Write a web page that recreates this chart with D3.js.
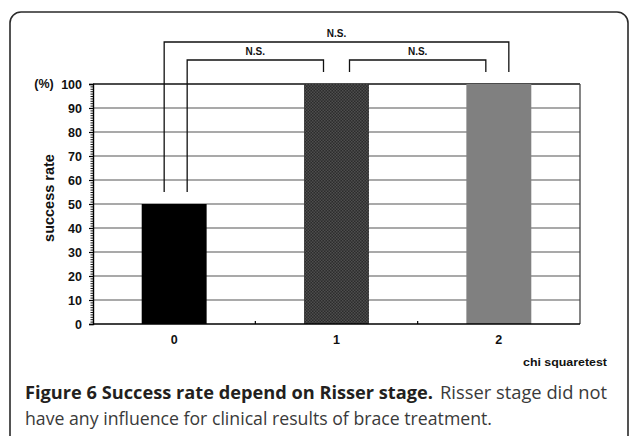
<!DOCTYPE html>
<html>
<head>
<meta charset="utf-8">
<script src="https://cdn.jsdelivr.net/npm/d3@7"></script>
<style>
  body { margin: 0; background: #fff; }
  svg { display: block; }
</style>
</head>
<body>
<div id="chart"></div>
<script>
// data
var stages = ["0", "1", "2"]
var successRate = [50, 100, 100]
var barFills = ["#000000", "url(#checker)", "#808080"]
var yTicks = [0, 10, 20, 30, 40, 50, 60, 70, 80, 90, 100]
// significance brackets: from stage, to stage, bracket level (in %), label
var bracketFrom = [0, 0, 1]
var bracketTo = [2, 1, 2]
var bracketLevel = [117.5, 110, 110]
var bracketLabel = ["N.S.", "N.S.", "N.S."]

var width = 629, height = 436
var margin = {top: 84, right: 49, bottom: 112, left: 93}

var svg = d3.select("#chart").append("svg")
  .attr("width", width)
  .attr("height", height)

var defs = svg.append("defs")
var pat = defs.append("pattern")
  .attr("id", "checker")
  .attr("width", 3).attr("height", 3)
  .attr("patternUnits", "userSpaceOnUse")
pat.append("rect").attr("width", 3).attr("height", 3).attr("fill", "#2c2c2c")
pat.append("rect").attr("width", 1.5).attr("height", 1.5).attr("fill", "#4e4e4e")
pat.append("rect").attr("x", 1.5).attr("y", 1.5).attr("width", 1.5).attr("height", 1.5).attr("fill", "#4e4e4e")

// outer rounded frame
svg.append("rect")
  .attr("x", 10).attr("y", 12)
  .attr("width", 618).attr("height", 470)
  .attr("rx", 11)
  .attr("fill", "none")
  .attr("stroke", "#2a2a2a")
  .attr("stroke-width", 1.6)

var x0 = margin.left, x1 = width - margin.right
var y0 = height - margin.bottom, y1 = margin.top

var x = d3.scaleBand()
  .domain(stages)
  .range([x0, x1])
  .paddingInner(0.6)
  .paddingOuter(0.3)

var y = d3.scaleLinear()
  .domain([0, 100])
  .range([y0, y1])

var cx = function(i) { return x(stages[i]) + x.bandwidth() / 2 }

// grid lines
svg.append("g")
  .selectAll("line")
  .data(yTicks.filter(function(d) { return d > 0 && d < 100 }))
  .enter().append("line")
  .attr("x1", x0).attr("x2", x1)
  .attr("y1", function(d) { return y(d) }).attr("y2", function(d) { return y(d) })
  .attr("stroke", "#8c8c8c")
  .attr("stroke-width", 1.3)

// plot top and right borders
svg.append("line")
  .attr("x1", x0).attr("x2", x1)
  .attr("y1", y(100)).attr("y2", y(100))
  .attr("stroke", "#111").attr("stroke-width", 1.4)
svg.append("line")
  .attr("x1", x1).attr("x2", x1)
  .attr("y1", y(100)).attr("y2", y(0))
  .attr("stroke", "#444").attr("stroke-width", 1.3)

// bars
svg.append("g")
  .selectAll("rect")
  .data(successRate)
  .enter().append("rect")
  .attr("x", function(d, i) { return x(stages[i]) })
  .attr("y", function(d) { return y(d) })
  .attr("width", x.bandwidth())
  .attr("height", function(d) { return y(0) - y(d) })
  .attr("fill", function(d, i) { return barFills[i] })

// y axis with minor ticks
var yAxis = svg.append("g")
  .attr("transform", "translate(" + x0 + ",0)")
  .call(d3.axisLeft(y).tickValues(yTicks).tickSize(4).tickPadding(7))
yAxis.select(".domain").attr("stroke", "#000").attr("stroke-width", 1.4)
yAxis.selectAll(".tick line").attr("stroke", "#000").attr("stroke-width", 1.2)
yAxis.selectAll("text")
  .attr("font-family", "Liberation Sans, Arial, sans-serif")
  .attr("font-weight", "bold")
  .attr("font-size", 12.5)
  .attr("fill", "#111")

svg.append("g")
  .attr("transform", "translate(" + x0 + ",0)")
  .call(d3.axisLeft(y).ticks(100).tickSize(2.5).tickFormat(""))
  .call(function(g) { g.select(".domain").remove() })
  .selectAll(".tick line").attr("stroke", "#000").attr("stroke-width", 0.9)

// x axis
svg.append("line")
  .attr("x1", x0).attr("x2", x1)
  .attr("y1", y0).attr("y2", y0)
  .attr("stroke", "#000").attr("stroke-width", 1.5)

// small ticks between categories
svg.append("g")
  .selectAll("line")
  .data(stages.slice(1))
  .enter().append("line")
  .attr("x1", function(d) { return x(d) - x.step() * x.paddingInner() / 2 })
  .attr("x2", function(d) { return x(d) - x.step() * x.paddingInner() / 2 })
  .attr("y1", y0).attr("y2", y0 - 3)
  .attr("stroke", "#000").attr("stroke-width", 1.2)

svg.append("g")
  .selectAll("text")
  .data(stages)
  .enter().append("text")
  .attr("x", function(d, i) { return cx(i) })
  .attr("y", y0 + 20)
  .attr("text-anchor", "middle")
  .attr("font-family", "Liberation Sans, Arial, sans-serif")
  .attr("font-weight", "bold")
  .attr("font-size", 12.5)
  .attr("fill", "#111")
  .text(function(d) { return d })

// axis titles
svg.append("text")
  .attr("x", 44).attr("y", y(100))
  .attr("dy", "0.35em")
  .attr("text-anchor", "middle")
  .attr("font-family", "Liberation Sans, Arial, sans-serif")
  .attr("font-weight", "bold")
  .attr("font-size", 12.5)
  .attr("fill", "#111")
  .text("(%)")

svg.append("text")
  .attr("transform", "translate(54," + 198 + ")rotate(-90)")
  .attr("text-anchor", "middle")
  .attr("font-family", "Liberation Sans, Arial, sans-serif")
  .attr("font-weight", "bold")
  .attr("font-size", 14.5)
  .attr("fill", "#111")
  .text("success rate")

svg.append("text")
  .attr("x", 607).attr("y", 366)
  .attr("text-anchor", "end")
  .attr("font-family", "Liberation Sans, Arial, sans-serif")
  .attr("font-weight", "bold")
  .attr("font-size", 11.5)
  .attr("textLength", 84)
  .attr("lengthAdjust", "spacingAndGlyphs")
  .attr("fill", "#111")
  .text("chi squaretest")

// significance brackets
var brackets = bracketFrom.map(function(f, i) {
  return {from: f, to: bracketTo[i], level: bracketLevel[i], label: bracketLabel[i]}
})
var bg = svg.append("g")
brackets.forEach(function(b, i) {
  var outer = b.to - b.from > 1
  var xa = cx(b.from) + (outer ? -10 : 13)
  var xb = cx(b.to) + (outer ? 10 : -13)
  var ya = y(successRate[b.from] + 5)
  var yb = y(successRate[b.to] + 5)
  var yl = y(b.level)
  bg.append("path")
    .attr("d", d3.line()([[xa, ya], [xa, yl], [xb, yl], [xb, yb]]))
    .attr("fill", "none")
    .attr("stroke", "#111")
    .attr("stroke-width", 1.3)
  bg.append("text")
    .attr("x", (xa + xb) / 2)
    .attr("y", yl - 5)
    .attr("text-anchor", "middle")
    .attr("font-family", "Liberation Sans, Arial, sans-serif")
    .attr("font-weight", "bold")
    .attr("font-size", 10)
    .attr("fill", "#111")
    .text(b.label)
})

// caption
var cap = svg.append("g")
  .attr("font-family", "Open Sans, Noto Sans, sans-serif")
  .attr("font-size", 18)
cap.append("text")
  .attr("x", 25).attr("y", 399)
  .attr("font-weight", "bold")
  .attr("fill", "#231f20")
  .attr("textLength", 408)
  .attr("lengthAdjust", "spacingAndGlyphs")
  .text("Figure 6 Success rate depend on Risser stage.")
cap.append("text")
  .attr("x", 440).attr("y", 399)
  .attr("fill", "#3a3a3a")
  .attr("textLength", 167)
  .attr("lengthAdjust", "spacingAndGlyphs")
  .text("Risser stage did not")
cap.append("text")
  .attr("x", 25).attr("y", 425)
  .attr("fill", "#3a3a3a")
  .attr("textLength", 467)
  .attr("lengthAdjust", "spacingAndGlyphs")
  .text("have any influence for clinical results of brace treatment.")
</script>
</body>
</html>
